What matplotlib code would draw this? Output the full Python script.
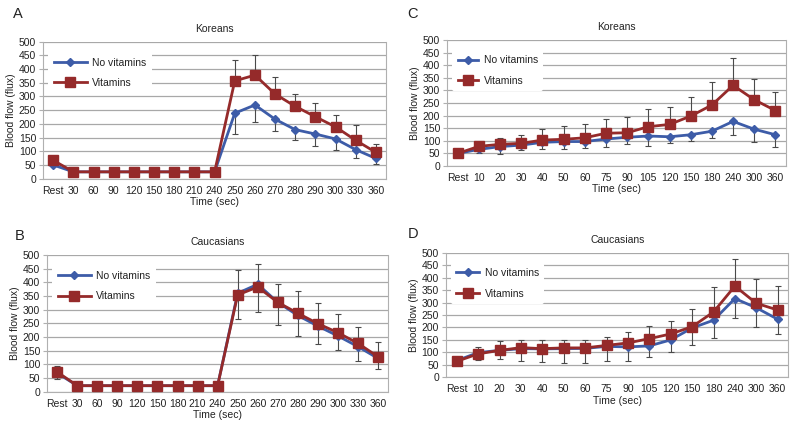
import numpy as np
import matplotlib
matplotlib.use("Agg")
import matplotlib.pyplot as plt

plt.rcParams['font.family'] = ['Liberation Sans', 'DejaVu Sans']

BLUE = "#3d5ca8"; RED = "#952a2a"; GRID = "#a8a8a8"; ERR = "#4a4a4a"; AXC = "#b0b0b0"; TXT = "#222222"

# x categories
times_ab = ["Rest", "30", "60", "90", "120", "150", "180", "210", "240",
            "250", "260", "270", "280", "290", "300", "330", "360"]
times_cd = ["Rest", "10", "20", "30", "40", "50", "60", "75", "90",
            "105", "120", "150", "180", "240", "300", "360"]

# A - Koreans
a_novit = [50, 25, 25, 25, 25, 25, 25, 25, 25, 239, 269, 217, 179, 163, 145, 106, 74]
a_novit_err = [0, 0, 0, 0, 0, 0, 0, 0, 0, 75, 63, 42, 38, 43, 41, 30, 22]
a_vit = [67, 25, 25, 25, 25, 25, 25, 25, 25, 357, 378, 309, 264, 226, 189, 140, 96]
a_vit_err = [0, 0, 0, 0, 0, 0, 0, 0, 0, 75, 73, 62, 46, 49, 45, 55, 32]

# B - Caucasians
b_novit = [68, 22, 22, 22, 22, 22, 22, 22, 22, 360, 393, 327, 279, 240, 204, 165, 122]
b_novit_err = [20, 0, 0, 0, 0, 0, 0, 0, 0, 94, 101, 84, 76, 64, 53, 52, 40]
b_vit = [72, 22, 22, 22, 22, 22, 22, 22, 22, 354, 383, 327, 287, 249, 216, 177, 128]
b_vit_err = [23, 0, 0, 0, 0, 0, 0, 0, 0, 91, 84, 68, 80, 77, 67, 60, 54]

# C - Koreans
c_novit = [50, 66, 77, 83, 94, 97, 97, 107, 114, 119, 116, 124, 138, 177, 146, 124]
c_novit_err = [0, 13, 29, 20, 25, 28, 25, 32, 27, 40, 26, 24, 28, 54, 51, 47]
c_vit = [50, 78, 86, 90, 103, 106, 112, 130, 132, 156, 165, 198, 242, 320, 263, 220]
c_vit_err = [0, 12, 24, 33, 43, 54, 55, 58, 64, 69, 68, 75, 90, 107, 81, 72]

# D - Caucasians
d_novit = [67, 99, 108, 115, 114, 115, 116, 124, 122, 126, 150, 198, 229, 316, 279, 233]
d_novit_err = [11, 29, 33, 48, 51, 59, 57, 57, 56, 44, 48, 68, 71, 78, 77, 59]
d_vit = [64, 94, 108, 119, 115, 118, 118, 128, 138, 155, 174, 203, 262, 366, 297, 270]
d_vit_err = [19, 26, 39, 31, 35, 33, 33, 35, 42, 50, 52, 71, 100, 107, 99, 98]


def panel(rect, labels, nov, nov_err, vit, vit_err, title, hl):
    ax = fig.add_axes(rect)
    x = np.arange(len(labels))
    zeros = np.zeros(len(labels))
    ax.errorbar(x, nov, yerr=[nov_err, zeros], fmt="none", ecolor=ERR, elinewidth=0.8,
                capsize=2, capthick=0.8, zorder=2)
    ax.errorbar(x, vit, yerr=[zeros, vit_err], fmt="none", ecolor=ERR, elinewidth=0.8,
                capsize=2, capthick=0.8, zorder=2)
    ax.plot(x, nov, color=BLUE, marker="D", ms=4, lw=2, zorder=3, label="No vitamins")
    ax.plot(x, vit, color=RED, marker="s", ms=6.5, lw=2, zorder=4, label="Vitamins")
    ax.set_xlim(-0.5, len(labels) - 0.5)
    ax.set_ylim(0, 500)
    ax.set_yticks(np.arange(0, 501, 50))
    ax.set_xticks(x)
    ax.set_xticklabels(labels)
    ax.yaxis.grid(True, color=GRID, lw=0.9)
    ax.set_axisbelow(True)
    for s in ["left", "bottom", "right"]:
        ax.spines[s].set_color(AXC)
        ax.spines[s].set_linewidth(0.8)
    ax.spines["top"].set_visible(False)
    ax.tick_params(axis="y", length=3, color=AXC, labelsize=7.5, labelcolor=TXT, pad=2)
    ax.tick_params(axis="x", length=0, labelsize=7.5, labelcolor=TXT, pad=5)
    ax.set_title(title, fontsize=7.5, color=TXT, pad=7)
    ax.set_xlabel("Time (sec)", fontsize=7.5, color=TXT, labelpad=1)
    ax.set_ylabel("Blood flow (flux)", fontsize=7.5, color=TXT, labelpad=2)
    leg = ax.legend(loc="upper left", bbox_to_anchor=(0.0, 0.96), frameon=True, facecolor="white",
                    edgecolor="none", framealpha=1, fontsize=7.5, handlelength=hl,
                    labelspacing=1.0, handletextpad=0.5, borderpad=0.5)
    for t in leg.get_texts():
        t.set_color(TXT)
    return ax


fig = plt.figure(figsize=(8, 4.44), dpi=100)
panel([0.054, 1 - 178.7 / 444, 0.4285, (178.7 - 41.7) / 444], times_ab,
      a_novit, a_novit_err, a_vit, a_vit_err, "Koreans", 3.2)
panel([0.059, 1 - 391.7 / 444, 0.426, (391.7 - 255) / 444], times_ab,
      b_novit, b_novit_err, b_vit, b_vit_err, "Caucasians", 3.2)
panel([0.559, 1 - 166 / 444, 0.4235, (166 - 40) / 444], times_cd,
      c_novit, c_novit_err, c_vit, c_vit_err, "Koreans", 2.0)
panel([0.5575, 1 - 377.3 / 444, 0.428, (377.3 - 252.7) / 444], times_cd,
      d_novit, d_novit_err, d_vit, d_vit_err, "Caucasians", 2.2)

for lab, xx, yy in [("A", 18, 14), ("B", 20, 236), ("C", 413, 14), ("D", 413, 234)]:
    fig.text(xx / 800, 1 - yy / 444, lab, fontsize=10.5, color=TXT, va="center", ha="center")

fig.savefig("out.png", dpi=100, facecolor="white")
